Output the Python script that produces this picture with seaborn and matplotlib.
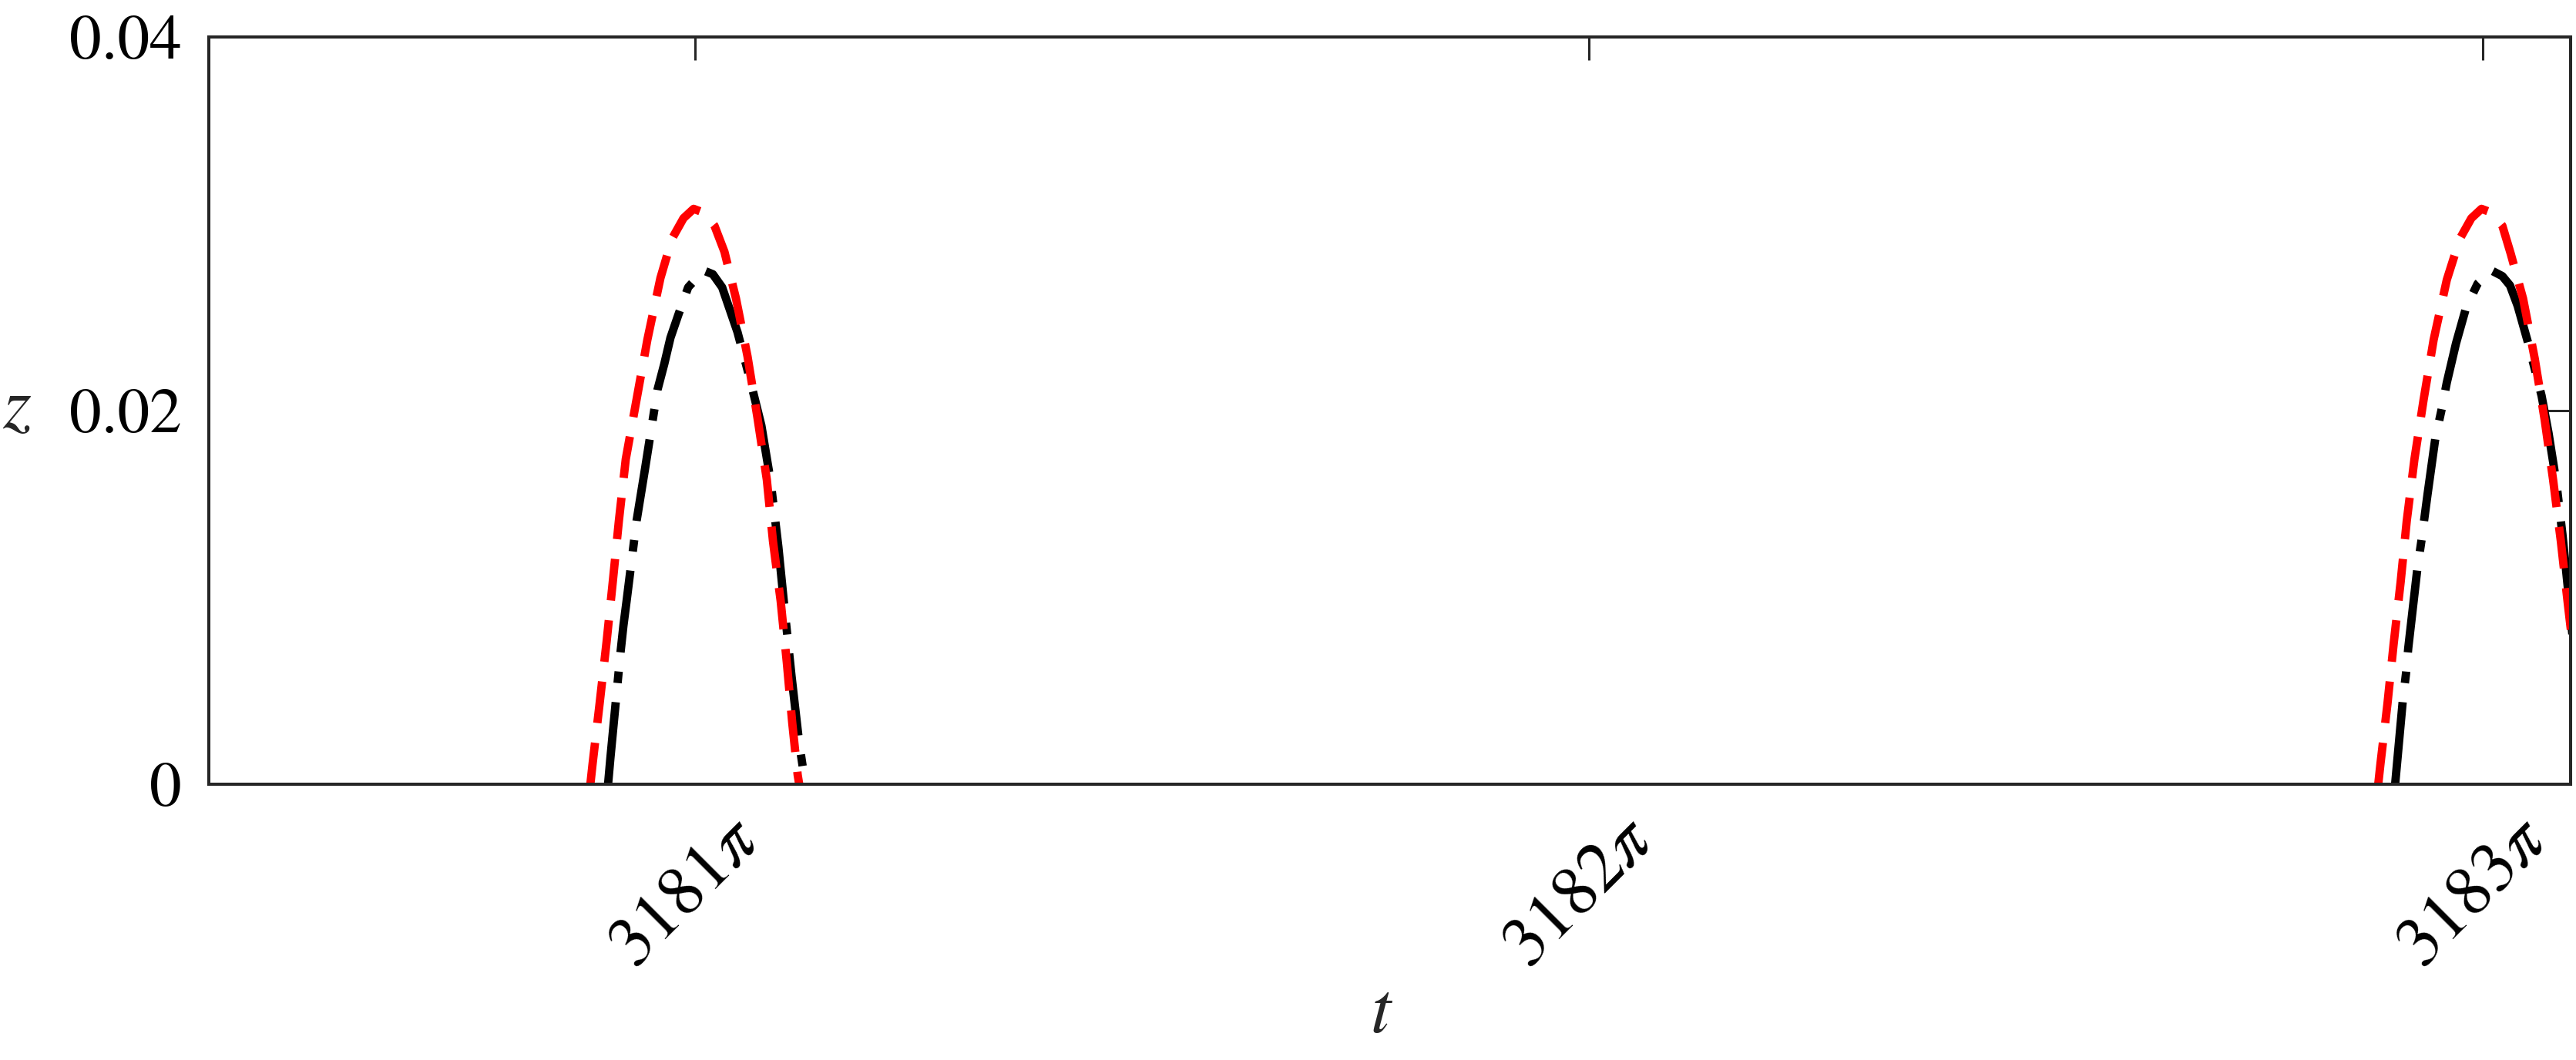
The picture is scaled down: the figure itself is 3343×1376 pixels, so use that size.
import numpy as np
import pandas as pd
import seaborn as sns
from matplotlib import pyplot as plt
from matplotlib.transforms import ScaledTranslation

# time in units of pi, z values
red_t1 = [3180.8828, 3180.8853, 3180.8931, 3180.9009, 3180.9078, 3180.9147, 3180.9224, 3180.9345,
          3180.9466, 3180.9612, 3180.9741, 3180.9870, 3180.9983, 3181.0095, 3181.0216, 3181.0328,
          3181.0457, 3181.0586, 3181.0698, 3181.0802, 3181.0871, 3181.0957, 3181.1026, 3181.1086,
          3181.1147, 3181.1164]
red_z1 = [0.0, 0.0011, 0.0043, 0.0076, 0.0108, 0.0141, 0.0174, 0.0206,
          0.0238, 0.0271, 0.0292, 0.0303, 0.0308, 0.0306, 0.0299, 0.0285,
          0.0260, 0.0229, 0.0196, 0.0163, 0.0130, 0.0098, 0.0065, 0.0033,
          0.0005, 0.0]

black_t1 = [3180.9026, 3180.9052, 3180.9078, 3180.9164, 3180.9198, 3180.9233, 3180.9345, 3180.9440,
            3180.9578, 3180.9655, 3180.9724, 3180.9810, 3180.9922, 3181.0095, 3181.0198, 3181.0302,
            3181.0474, 3181.0612, 3181.0741, 3181.0845, 3181.0931, 3181.1000, 3181.1078, 3181.1164,
            3181.1233]
black_z1 = [0.0, 0.0014, 0.0027, 0.0070, 0.0085, 0.0098, 0.0141, 0.0169,
            0.0211, 0.0225, 0.0239, 0.0251, 0.0266, 0.0275, 0.0273, 0.0266,
            0.0242, 0.0217, 0.0192, 0.0162, 0.0127, 0.0094, 0.0058, 0.0022,
            0.0]

red_t2 = [3182.8828, 3182.8853, 3182.8931, 3182.9000, 3182.9078, 3182.9147, 3182.9233, 3182.9336,
          3182.9448, 3182.9595, 3182.9741, 3182.9870, 3182.9983, 3183.0095, 3183.0216, 3183.0310,
          3183.0448, 3183.0578, 3183.0690, 3183.0784, 3183.0871, 3183.0948, 3183.1026, 3183.1086]
red_z2 = [0.0, 0.0011, 0.0043, 0.0075, 0.0108, 0.0141, 0.0174, 0.0206,
          0.0238, 0.0270, 0.0292, 0.0303, 0.0308, 0.0306, 0.0299, 0.0284,
          0.0260, 0.0228, 0.0195, 0.0163, 0.0130, 0.0097, 0.0065, 0.0033]

black_t2 = [3182.9017, 3182.9103, 3182.9138, 3182.9164, 3182.9267, 3182.9310, 3182.9379, 3182.9466,
            3182.9534, 3182.9595, 3182.9698, 3182.9810, 3182.9940, 3183.0095, 3183.0216, 3183.0302,
            3183.0388, 3183.0500, 3183.0655, 3183.0733, 3183.0819, 3183.0888, 3183.0960, 3183.1030]
black_z2 = [0.0, 0.0045, 0.0059, 0.0073, 0.0116, 0.0130, 0.0155, 0.0185,
            0.0200, 0.0215, 0.0236, 0.0255, 0.0268, 0.0275, 0.0272, 0.0267,
            0.0256, 0.0237, 0.0208, 0.0188, 0.0162, 0.0134, 0.0100, 0.0065]

x_ticks = [3181, 3182, 3183]
x_tick_labels = [r'$3181\pi$', r'$3182\pi$', r'$3183\pi$']
y_ticks = [0, 0.02, 0.04]
y_tick_labels = ['0', '0.02', '0.04']

AX_COLOR = '#262626'
DPI = 200


def arches(t_lists, z_lists):
    frames = []
    for i, (t, z) in enumerate(zip(t_lists, z_lists)):
        frames.append(pd.DataFrame({'t': t, 'z': z, 'arch': i}))
    return pd.concat(frames, ignore_index=True)


black_df = arches([black_t1, black_t2], [black_z1, black_z2])
red_df = arches([red_t1, red_t2], [red_z1, red_z2])

sns.set_theme(style='white')
plt.rcParams['font.family'] = ['STIXGeneral', 'DejaVu Serif']
plt.rcParams['mathtext.fontset'] = 'stix'
# dash lengths below are given in points, not in line widths
plt.rcParams['lines.scale_dashes'] = False

fig = plt.figure(figsize=(16.715, 6.88), dpi=DPI)
ax = fig.add_axes([0.08107, 0.26017, 0.91684, 0.70494])

sns.lineplot(data=black_df, x='t', y='z', units='arch', estimator=None, sort=False, ax=ax,
             color='black', linewidth=3.9, linestyle=(0, (38.5, 9.0, 5.4, 9.0)), legend=False)
sns.lineplot(data=red_df, x='t', y='z', units='arch', estimator=None, sort=False, ax=ax,
             color='#ff0000', linewidth=3.9, linestyle=(0, (19.5, 9.3)), legend=False)

ax.set_xlim(3180.456, 3183.098)
ax.set_ylim(0, 0.04)

ax.tick_params(direction='in', length=10.8, width=1.1, color=AX_COLOR, top=True, right=True,
               labelsize=30, labelcolor='black')
ax.tick_params(axis='y', pad=12.6)
ax.tick_params(axis='x', pad=11.0, labelsize=33)

ax.set_yticks(y_ticks)
ax.set_yticklabels(y_tick_labels)
ax.set_xticks(x_ticks)
ax.set_xticklabels(x_tick_labels)
shift = ScaledTranslation(43 / DPI, 0, fig.dpi_scale_trans)
for lab in ax.get_xticklabels():
    lab.set_rotation(45)
    lab.set_ha('right')
    lab.set_va('top')
    lab.set_rotation_mode('anchor')
    lab.set_transform(lab.get_transform() + shift)

for sp in ax.spines.values():
    sp.set_visible(True)
    sp.set_linewidth(1.45)
    sp.set_color(AX_COLOR)

ax.set_ylabel(r'$z$', fontsize=34, rotation=0, ha='center', va='center')
ax.yaxis.set_label_coords(-0.0812, 0.5)
ax.set_xlabel(r'$t$', fontsize=34, va='center')
ax.xaxis.set_label_coords(0.4966, -0.309)

fig.savefig('out.png', dpi=DPI)
